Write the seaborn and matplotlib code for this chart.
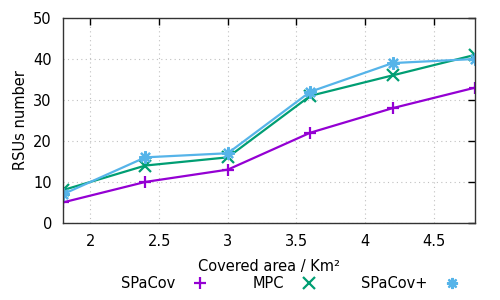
import pandas as pd
import numpy as np
import matplotlib.pyplot as plt
import seaborn as sns

# data
area = [1.8, 2.4, 3.0, 3.6, 4.2, 4.8]
spacov = [5, 10, 13, 22, 28, 33]
mpc = [8, 14, 16, 31, 36, 41]
spacov_plus = [7, 16, 17, 32, 39, 40]

series = ['SPaCov', 'MPC', 'SPaCov+']
colors = ['#9400D3', '#009E73', '#56B4E9']
markers = ['+', 'x', (8, 2, 0)]

df = pd.DataFrame({
    'area': area * 3,
    'rsus': spacov + mpc + spacov_plus,
    'method': sum([[s] * len(area) for s in series], []),
})

sns.set_style('white')
plt.rcParams['font.family'] = ['DejaVu Sans']
plt.rcParams['text.color'] = 'black'
plt.rcParams['axes.labelcolor'] = 'black'
plt.rcParams['xtick.color'] = 'black'
plt.rcParams['ytick.color'] = 'black'

fig = plt.figure(figsize=(5, 3), dpi=100)
ax = fig.add_axes([0.126, 0.257, 0.824, 0.683])

for s, c, m in zip(series, colors, markers):
    sub = df[df['method'] == s]
    sns.lineplot(data=sub, x='area', y='rsus', ax=ax, color=c, marker=m,
                 markersize=9, markeredgewidth=1.6, markeredgecolor=c,
                 linewidth=1.6, label=s)

ax.set_xlim(1.8, 4.8)
ax.set_ylim(0, 50)
ax.set_xticks([2, 2.5, 3, 3.5, 4, 4.5])
ax.set_xticklabels(['2', '2.5', '3', '3.5', '4', '4.5'])
ax.set_yticks([0, 10, 20, 30, 40, 50])
ax.grid(True, color='#c0c0c0', linestyle=(0, (1, 3)), linewidth=0.8)
ax.tick_params(direction='in', length=5, width=1, top=True, right=True,
               labelsize=10.5, pad=8)
for sp in ax.spines.values():
    sp.set_color('#333333')
    sp.set_linewidth(1)

ax.set_xlabel('Covered area / Km²', fontsize=10.5, labelpad=7)
ax.set_ylabel('RSUs number', fontsize=10.5)

handles = [plt.Line2D([], [], color=c, marker=m, linestyle='none', markersize=8,
                      markeredgewidth=1.6, markeredgecolor=c)
           for c, m in zip(colors, markers)]
ax.legend(handles, series, loc='upper center', bbox_to_anchor=(0.56, -0.23),
          ncol=3, frameon=False, markerfirst=False, fontsize=10.5,
          handletextpad=0.7, columnspacing=2.6, borderaxespad=0)

fig.savefig('out.png', dpi=100)
